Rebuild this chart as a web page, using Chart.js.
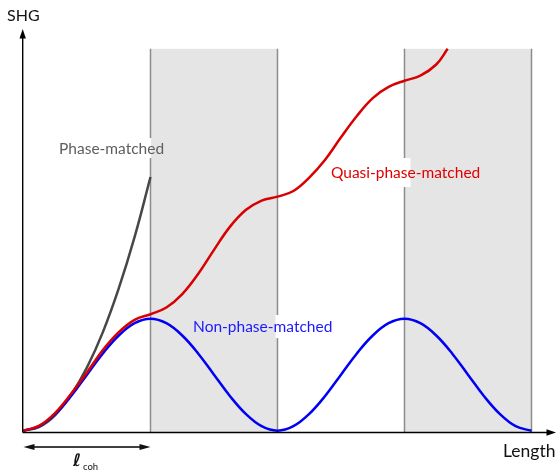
<!DOCTYPE html>
<html>
<head>
<meta charset="utf-8">
<script src="https://cdn.jsdelivr.net/npm/chart.js@4"></script>
<style>
  html, body { margin: 0; padding: 0; background: #fff; }
  #wrap { width: 558px; height: 476px; }
</style>
</head>
<body>
<div id="wrap"><canvas id="c" width="558" height="476"></canvas></div>
<script>
// Crystal length in units of the coherence length, SHG in units of the non-phase-matched peak.
const gridPositions = [0, 0.125, 0.25, 0.375, 0.5, 0.625, 0.75, 0.875, 1,
  1.125, 1.25, 1.375, 1.5, 1.625, 1.75, 1.875, 2,
  2.125, 2.25, 2.375, 2.5, 2.625, 2.75, 2.875, 3,
  3.125, 3.25, 3.375, 3.5, 3.625, 3.75, 3.875, 4];

const nonPhaseMatched = [0, 0.04, 0.15, 0.31, 0.5, 0.69, 0.85, 0.96, 1,
  0.96, 0.85, 0.69, 0.5, 0.31, 0.15, 0.04, 0,
  0.04, 0.15, 0.31, 0.5, 0.69, 0.85, 0.96, 1,
  0.96, 0.85, 0.69, 0.5, 0.31, 0.15, 0.04, 0];

const phaseMatchedPositions = [0, 0.125, 0.25, 0.375, 0.5, 0.625, 0.75, 0.875, 1];
const phaseMatched = [0, 0.035, 0.14, 0.32, 0.565, 0.88, 1.27, 1.73, 2.265];

const quasiPositions = [0, 0.125, 0.25, 0.375, 0.5, 0.625, 0.75, 0.875, 1,
  1.125, 1.25, 1.375, 1.5, 1.625, 1.75, 1.875, 2,
  2.125, 2.25, 2.375, 2.5, 2.625, 2.75, 2.875, 3,
  3.125, 3.25, 3.34];
const quasiPhaseMatched = [0, 0.045, 0.16, 0.33, 0.52, 0.72, 0.88, 0.99, 1.04,
  1.10, 1.22, 1.40, 1.615, 1.82, 1.97, 2.055, 2.09,
  2.14, 2.26, 2.42, 2.62, 2.81, 2.97, 3.07, 3.125,
  3.17, 3.27, 3.41];

// Inverted-domain regions and the domain walls between them
const invertedDomains = [[1, 2], [3, 4]];
const domainWalls = [1, 2, 3, 4];
const domainTop = 3.41;

const xTitle = 'Length';
const yTitle = 'SHG';
const coherenceSymbol = 'ℓ';
const coherenceSubscript = 'coh';

const labelFont = '15.5px Lato, "DejaVu Sans", sans-serif';

// Curve labels (anchor = left end of the baseline, in data units) and the
// short stretch of domain wall each one interrupts.
const curveLabels = [
  { text: 'Phase-matched', color: '#5e5e5e', x: 0.28, y: 2.47,
    gap: { wall: 1, from: 2.435, to: 2.613, left: 2, right: 1 } },
  { text: 'Quasi-phase-matched', color: '#e00000', x: 2.421, y: 2.256,
    gap: { wall: 3, from: 2.176, to: 2.435, left: 6, right: 6 } },
  { text: 'Non-phase-matched', color: '#1a1aff', x: 1.335, y: 0.878,
    gap: { wall: 2, from: 0.827, to: 1.033, left: 2, right: 2 } }
];

const toPoints = (xs, ys) => xs.map((v, i) => ({ x: v, y: ys[i] }));

function arrowHead(ctx, tipX, tipY, dx, dy, len, half) {
  // dx,dy: unit direction the arrow points to
  const bx = tipX - dx * len, by = tipY - dy * len;
  ctx.beginPath();
  ctx.moveTo(tipX, tipY);
  ctx.lineTo(bx - dy * half, by + dx * half);
  ctx.lineTo(bx + dy * half, by - dx * half);
  ctx.closePath();
  ctx.fill();
}

const decorations = {
  id: 'decorations',
  beforeDatasetsDraw(chart) {
    const { ctx, scales: { x, y } } = chart;
    const y0 = y.getPixelForValue(0);
    const yTop = y.getPixelForValue(domainTop);
    ctx.save();
    // shaded inverted domains
    ctx.fillStyle = '#e5e5e5';
    invertedDomains.forEach(([a, b]) => {
      const xa = x.getPixelForValue(a), xb = x.getPixelForValue(b);
      ctx.fillRect(xa, yTop, xb - xa, y0 + 1.5 - yTop);
    });
    // domain walls
    ctx.strokeStyle = '#8c8c8c';
    ctx.lineWidth = 1.5;
    domainWalls.forEach(w => {
      const px = x.getPixelForValue(w);
      ctx.beginPath();
      ctx.moveTo(px, yTop);
      ctx.lineTo(px, y0 + 1.5);
      ctx.stroke();
    });
    // white patches behind the labels where they cross a wall
    ctx.fillStyle = '#ffffff';
    curveLabels.forEach(l => {
      const g = l.gap;
      const px = x.getPixelForValue(g.wall);
      const t = y.getPixelForValue(g.to), b = y.getPixelForValue(g.from);
      ctx.fillRect(px - g.left, t, g.left + g.right, b - t);
    });
    ctx.restore();
  },
  afterDatasetsDraw(chart) {
    const { ctx, scales: { x, y }, chartArea } = chart;
    const y0 = y.getPixelForValue(0);
    const x0 = x.getPixelForValue(0);
    const axisY = y0 + 1.8;
    const axisX = x0 - 0.8;
    ctx.save();
    // axes with arrow heads
    ctx.strokeStyle = '#000';
    ctx.fillStyle = '#000';
    ctx.lineWidth = 1.4;
    ctx.beginPath();
    ctx.moveTo(axisX, axisY);
    ctx.lineTo(chartArea.right - 6, axisY);
    ctx.moveTo(axisX, axisY);
    ctx.lineTo(axisX, chartArea.top + 6);
    ctx.stroke();
    arrowHead(ctx, chartArea.right, axisY, 1, 0, 9.5, 3.2);
    arrowHead(ctx, axisX, chartArea.top, 0, -1, 9.5, 3.2);

    // axis titles
    ctx.textBaseline = 'alphabetic';
    ctx.textAlign = 'left';
    ctx.fillStyle = '#111';
    ctx.font = '16px Lato, "DejaVu Sans", sans-serif';
    ctx.fillText(yTitle, 7, 21);
    ctx.font = '17.5px Lato, "DejaVu Sans", sans-serif';
    ctx.fillText(xTitle, 503, 457);

    // coherence length marker
    const xa = x.getPixelForValue(0), xb = x.getPixelForValue(1);
    const ay = 447;
    ctx.lineWidth = 1.3;
    ctx.beginPath();
    ctx.moveTo(xa + 6, ay);
    ctx.lineTo(xb - 6, ay);
    ctx.stroke();
    arrowHead(ctx, xa, ay, -1, 0, 11, 3);
    arrowHead(ctx, xb, ay, 1, 0, 11, 3);
    ctx.font = 'bold 17px "DejaVu Sans", sans-serif';
    ctx.fillText(coherenceSymbol, 73, 466);
    ctx.font = '9.5px Lato, "DejaVu Sans", sans-serif';
    ctx.fillText(coherenceSubscript, 83, 470);

    // curve labels
    ctx.font = labelFont;
    curveLabels.forEach(l => {
      ctx.fillStyle = l.color;
      ctx.fillText(l.text, x.getPixelForValue(l.x), y.getPixelForValue(l.y));
    });
    ctx.restore();
  }
};

const lineStyle = {
  pointRadius: 0,
  borderWidth: 2.5,
  fill: false,
  tension: 0.4,
  clip: false
};

new Chart(document.getElementById('c'), {
  type: 'line',
  data: {
    datasets: [
      Object.assign({ label: 'Quasi-phase-matched', data: toPoints(quasiPositions, quasiPhaseMatched),
        borderColor: '#d80000', order: 0 }, lineStyle),
      Object.assign({ label: 'Non-phase-matched', data: toPoints(gridPositions, nonPhaseMatched),
        borderColor: '#0000f5', order: 1 }, lineStyle),
      Object.assign({ label: 'Phase-matched', data: toPoints(phaseMatchedPositions, phaseMatched),
        borderColor: '#474747', order: 2 }, lineStyle)
    ]
  },
  options: {
    responsive: false,
    devicePixelRatio: 1,
    animation: false,
    layout: { padding: { left: 23.5, right: 2, top: 29, bottom: 45.3 } },
    scales: {
      x: { type: 'linear', min: 0, max: 4.193, display: false },
      y: { type: 'linear', min: 0, max: 3.587, display: false }
    },
    plugins: {
      legend: { display: false },
      tooltip: { enabled: false }
    }
  },
  plugins: [decorations]
});
</script>
</body>
</html>
